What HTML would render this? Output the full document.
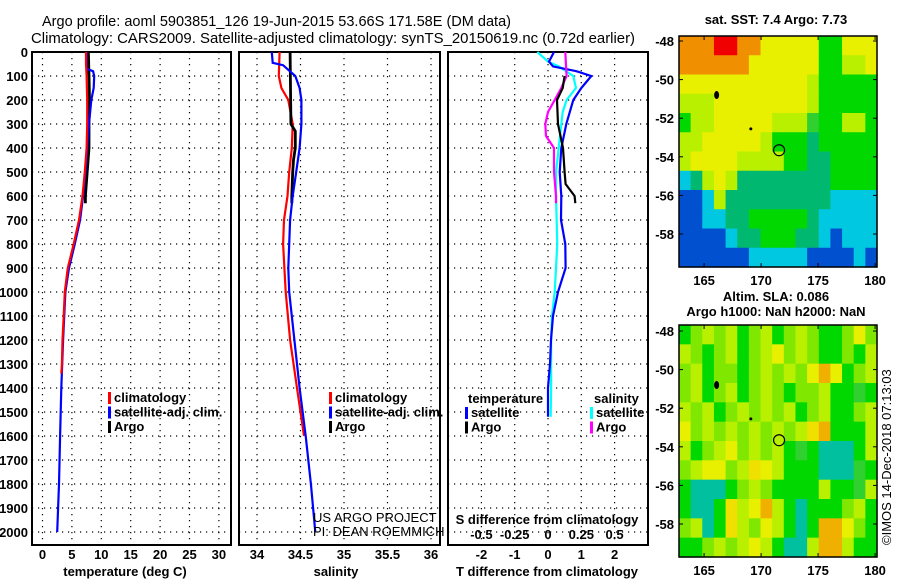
<!DOCTYPE html>
<html><head><meta charset="utf-8"><style>
html,body{margin:0;padding:0;background:#fff;}
svg{display:block;font-family:"Liberation Sans",sans-serif;}
.t{font-weight:bold;font-size:13px;fill:#000;}
</style></head><body>
<svg id="fig" width="900" height="580" viewBox="0 0 900 580" xmlns="http://www.w3.org/2000/svg">
<rect width="900" height="580" fill="#fff"/>
<text x="42" y="26" font-size="15" textLength="469" lengthAdjust="spacingAndGlyphs">Argo profile: aoml 5903851_126 19-Jun-2015 53.66S 171.58E (DM data)</text>
<text x="31" y="43" font-size="15" textLength="604" lengthAdjust="spacingAndGlyphs">Climatology: CARS2009. Satellite-adjusted climatology: synTS_20150619.nc (0.72d earlier)</text>
<g id="g"></g>
</svg>
<script>
// ---- data ----
const depthTicks=[0,100,200,300,400,500,600,700,800,900,1000,1100,1200,1300,1400,1500,1600,1700,1800,1900,2000];
const tempTicks=[0,5,10,15,20,25,30];
const salTicks=[34,34.5,35,35.5,36];
const dTTicks=[-2,-1,0,1,2];
const dSTicks=[-0.5,-0.25,0,0.25,0.5];
const dSLabels=["-0.5","-0.25","0","0.25","0.5"];

const tClimDepth=[0,50,100,200,300,400,500,600,700,800,900,1000,1100,1200,1300,1340];
const tClim=[7.4,7.4,7.5,7.6,7.6,7.5,7.2,6.8,6.2,5.3,4.3,3.8,3.6,3.4,3.3,3.2];
const tSatDepth=[0,70,80,100,150,200,300,400,500,600,700,800,900,1000,1200,1400,1600,1800,2000];
const tSat=[7.5,7.5,8.6,8.8,8.7,8.3,7.9,7.6,7.3,6.9,6.4,5.5,4.5,3.9,3.5,3.2,3.0,2.8,2.5];
const tArgoDepth=[0,100,200,300,400,500,600,630];
const tArgo=[7.8,7.9,8.0,7.9,7.9,7.6,7.3,7.3];

const sClimDepth=[0,100,150,200,300,400,500,600,700,800,1000,1200,1400,1600];
const sClim=[34.26,34.25,34.28,34.36,34.41,34.40,34.37,34.35,34.31,34.30,34.33,34.38,34.46,34.54];
const sSatDepth=[0,45,55,100,150,200,300,400,500,600,700,800,900,1000,1200,1400,1600,1800,2000];
const sSat=[34.17,34.18,34.3,34.44,34.49,34.51,34.51,34.49,34.45,34.41,34.38,34.37,34.36,34.37,34.43,34.49,34.56,34.62,34.67];
const sArgoDepth=[0,300,330,400,450,500,600,630];
const sArgo=[34.38,34.39,34.44,34.44,34.42,34.41,34.40,34.40];

const dTSatDepth=[0,40,60,80,100,150,200,300,400,500,600,700,800,900,1000,1100,1200,1300,1400,1520];
const dTSat=[0.18,0.03,0.15,0.85,1.3,1.0,0.76,0.55,0.4,0.35,0.4,0.39,0.52,0.53,0.3,0.15,0.09,0.06,0.0,0.0];
const dTArgoDepth=[100,150,200,300,400,500,550,600,630];
const dTArgo=[0.5,0.44,0.27,0.3,0.45,0.5,0.53,0.8,0.82];
const dSSatDepth=[0,40,60,100,150,200,250,300,400,500,600,800,900,1000,1100,1200,1400,1520];
const dSSat=[-0.08,0.0,0.08,0.19,0.21,0.14,0.11,0.10,0.08,0.06,0.06,0.07,0.06,0.05,0.03,0.023,0.023,0.02];
const dSArgoDepth=[0,100,150,200,250,300,350,400,500,600,630];
const dSArgo=[0.13,0.14,0.1,0.05,0.0,-0.02,-0.015,0.045,0.045,0.06,0.06];

const NS="http://www.w3.org/2000/svg";
const G=document.getElementById('g');
function el(tag,attrs,parent){const e=document.createElementNS(NS,tag);for(const k in attrs)e.setAttribute(k,attrs[k]);(parent||G).appendChild(e);return e;}
function txt(x,y,s,anchor,cls,parent){const e=el('text',{x:x,y:y,'text-anchor':anchor||'start','class':cls||'t'},parent);e.textContent=s;return e;}

const TOP=52,BOT=545;
const yD=d=>52+d*0.24;

depthTicks.forEach(d=>{const e=txt(28,yD(d)+5,String(d),'end');

});

function panel(name,x0,x1,xs,ticks,labels){
  const g=el('g',{});
  
  
  depthTicks.forEach(d=>{const l=el('line',{x1:x0,x2:x1,y1:yD(d),y2:yD(d),stroke:'#000','stroke-width':1.2,'stroke-dasharray':'1.2,4.8'},g);
    
    });
  ticks.forEach((t,i)=>{const x=xs(t);const l=el('line',{x1:x,x2:x,y1:TOP,y2:BOT,stroke:'#000','stroke-width':1.2,'stroke-dasharray':'1.2,4.8'},g);
    
    
    if(labels){const e=txt(x,559,labels[i],'middle',null,g);
      
      }});
  const r=el('rect',{x:x0,y:TOP,width:x1-x0,height:BOT-TOP,fill:'none',stroke:'#000','stroke-width':2},g);
  
  
  return g;
}
function series(g,name,depths,vals,xs,color,w){
  const pts=depths.map((d,i)=>xs(vals[i]).toFixed(1)+','+yD(d).toFixed(1)).join(' ');
  const p=el('polyline',{points:pts,fill:'none',stroke:color,'stroke-width':w||2.2},g);
  
  
}
function legend(g,x,y,items){
  items.forEach((it,i)=>{const yy=y+i*14.5;
    const l=el('rect',{x:x-4,y:yy-10,width:3,height:12,fill:it[1]},g);
    
    
    const t=txt(x+2,yy,it[0],'start',null,g);
    
    });
}

const xT=v=>42.5+v*5.88;
const p1=panel('temperature-panel',32,231,xT,tempTicks,tempTicks.map(String));
series(p1,'temp-argo',tArgoDepth,tArgo,xT,'#000',2.8);
series(p1,'temp-satellite-clim',tSatDepth,tSat,xT,'#0000ff',2.2);
series(p1,'temp-climatology',tClimDepth,tClim,xT,'#ff0000',2.2);
legend(p1,112,402,[['climatology','#f00'],['satellite-adj. clim.','#00f'],['Argo','#000']]);
{const e=txt(125,576,'temperature (deg C)','middle');}

const xS=v=>257+(v-34)*87;
const p2=panel('salinity-panel',239,440,xS,salTicks,['34','34.5','35','35.5','36']);
series(p2,'sal-climatology',sClimDepth,sClim,xS,'#ff0000',2.2);
series(p2,'sal-argo',sArgoDepth,sArgo,xS,'#000',2.8);
series(p2,'sal-satellite-clim',sSatDepth,sSat,xS,'#0000ff',2.2);
legend(p2,333,402,[['climatology','#f00'],['satellite-adj. clim.','#00f'],['Argo','#000']]);
{const e=txt(336,576,'salinity','middle');}
{const e=el('text',{x:313,y:522,'font-size':13});e.textContent='US ARGO PROJECT';}
{const e=el('text',{x:313,y:536,'font-size':13});e.textContent='PI: DEAN ROEMMICH';}

const xdT=v=>548+v*33.3;
const xdS=v=>548+v*133.2;
const p3=panel('difference-panel',448,648,xdT,dTTicks,dTTicks.map(String));
series(p3,'dS-satellite',dSSatDepth,dSSat,xdS,'#00ffff',2.2);
series(p3,'dT-satellite',dTSatDepth,dTSat,xdT,'#0000ff',2.2);
series(p3,'dS-argo',dSArgoDepth,dSArgo,xdS,'#ff00ff',2.2);
series(p3,'dT-argo',dTArgoDepth,dTArgo,xdT,'#000',2.2);
{const t=txt(468,403,'temperature');
 const s=txt(594,403,'salinity');}
legend(p3,469,417,[['satellite','#00f'],['Argo','#000']]);
legend(p3,594,417,[['satellite','#0ff'],['Argo','#f0f']]);
{const t=txt(547,524,'S difference from climatology','middle');}
dSTicks.forEach((v,i)=>{const t=txt(xdS(v),539,dSLabels[i],'middle');

});
{const t=txt(547,576,'T difference from climatology','middle');}

// ---- maps ----
const COL={o:'#f09000',r:'#f00000',y:'#e8f000',l:'#b8f000',g:'#00d800',t:'#00b870',c:'#00c8e0',b:'#0050d0',s:'#00c0a0',Y:'#f0e000',O:'#f0b000',k:'#30d030',m:'#80e800'};
const sstRows=[
"ooorrooyyyyyggyyy",
"ooooooyyyyyygglly",
"yyyyyyyyyyylggggg",
"lllyyyyyyyylggggg",
"gllyyyyylllkggllg",
"llyyyyylgggtggggg",
"lyyyyllllggttgggg",
"ctlylttttttttgggg",
"bbcltttttttttcccc",
"bbccttgggggtccccc",
"bbbbcttgggttcbccc",
"bbbbbbcccccbbbbcb"];
const slaRows=[
"gmlmlgmlgmlmggmym",
"lmgmlgmlymlmggmgl",
"mlgmmgmlmlmyOygml",
"mlgmlgmlmgmmlggkg",
"lmlgmlmlmlgmlggml",
"ymlmlmlmlmlYOgggl",
"lgmlymlmlgkgsssgl",
"mlyymlYylgggssskg",
"gsssgmlmgggglggkl",
"gssgYlyOlgsgggmlg",
"mlsgYlmylgsgOOymg",
"ggmlmlylgsslOOlgg"];
function map(name,x0,y0,w,h,rows,latLab0){
  const g=el('g',{});
  
  
  const nr=rows.length,nc=17,cw=w/nc,ch=h/nr;
  rows.forEach((row,i)=>{for(let j=0;j<nc;j++){const c=row[j]||row[row.length-1];
    el('rect',{x:(x0+j*cw).toFixed(2),y:(y0+i*ch).toFixed(2),width:(cw+0.6).toFixed(2),height:(ch+0.6).toFixed(2),fill:COL[c]},g);}});
  const lonX=lon=>x0+(lon-162.8)*11.4;
  const latY=lat=>latLab0+(-48-lat)*19.3;
  [165,170,175,180].forEach(lon=>{const x=lonX(lon);
    el('line',{x1:x,x2:x,y1:y0,y2:y0+4,stroke:'#000'},g);el('line',{x1:x,x2:x,y1:y0+h-4,y2:y0+h,stroke:'#000'},g);
    const t=txt(x,y0+h+18,String(lon),'middle',null,g);
    
    });
  [-48,-50,-52,-54,-56,-58].forEach(lat=>{const y=latY(lat);
    el('line',{x1:x0,x2:x0+4,y1:y,y2:y,stroke:'#000'},g);el('line',{x1:x0+w-4,x2:x0+w,y1:y,y2:y,stroke:'#000'},g);
    const t=txt(x0-5,y+5,String(lat),'end',null,g);
    
    });
  el('ellipse',{cx:lonX(166.1),cy:latY(-50.8),rx:2.5,ry:4,fill:'#000'},g);
  el('circle',{cx:lonX(169.1),cy:latY(-52.55),r:1.5,fill:'#000'},g);
  const m=el('circle',{cx:lonX(171.58),cy:latY(-53.66),r:5.5,fill:'none',stroke:'#000','stroke-width':1.2},g);
  
  
  el('rect',{x:x0,y:y0,width:w,height:h,fill:'none',stroke:'#000','stroke-width':1.5},g);
  return g;
}
map('sst-map',679,36,198,231,sstRows,41);
map('sla-map',679,325,198,232,slaRows,331);
{const t=txt(776,24,'sat. SST: 7.4 Argo: 7.73','middle');}
{const t=txt(776,301,'Altim. SLA: 0.086','middle');}
{const t=txt(776,316,'Argo h1000: NaN h2000: NaN','middle');}
{const t=el('text',{x:0,y:0,'font-size':13,transform:'translate(891,545) rotate(-90)'});t.textContent='©IMOS 14-Dec-2018 07:13:03';}
</script>
</body></html>
